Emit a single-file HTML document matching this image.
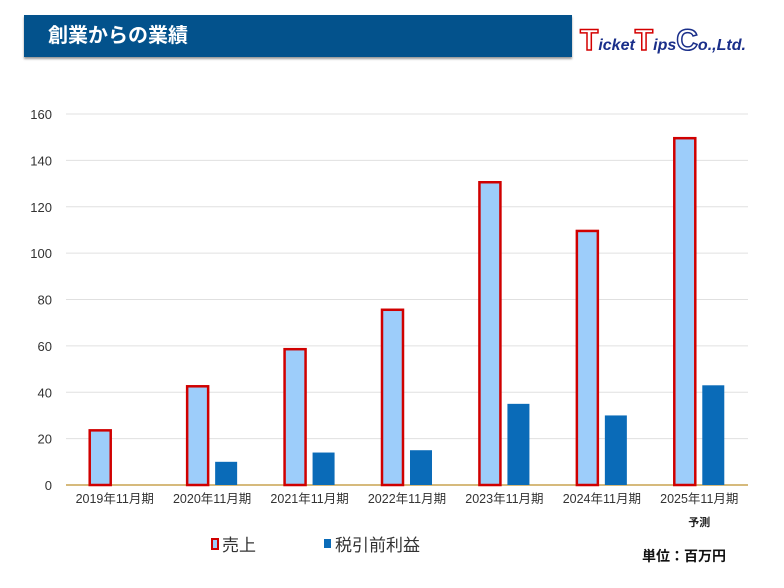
<!DOCTYPE html>
<html><head><meta charset="utf-8"><style>
body{margin:0;width:784px;height:588px;background:#fff;font-family:"Liberation Sans","Noto Sans CJK JP",sans-serif;position:relative;overflow:hidden}
.title{position:absolute;left:24px;top:15px;width:548px;height:42px;background:#03528c;box-shadow:0 2px 2px #999;color:#fff;font-weight:bold;font-size:20px;line-height:42px;padding-left:24px;box-sizing:border-box}
.logo{position:absolute;left:580px;top:24px;font-style:italic;font-weight:bold;font-size:16px;color:#1a2f8a}
.logo .big{color:#fff;-webkit-text-stroke:1.5px #d40000;font-size:30px;font-style:normal}
.logo .c{color:#fff;-webkit-text-stroke:1.5px #1a2f8a;font-size:30px;font-style:normal}
</style></head><body>
<div class="title">創業からの業績</div>
<div class="logo"><span class="big">T</span>icket<span class="big">T</span>ips<span class="c">C</span>o.,Ltd.</div>
<svg id="chart" width="784" height="588" style="position:absolute;left:0;top:0"></svg>
<script>
const categories=["2019年11月期","2020年11月期","2021年11月期","2022年11月期","2023年11月期","2024年11月期","2025年11月期"];
const sales=[24,43,59,76,131,110,150];
const profit=[0,10,14,15,35,30,43];
const yTicks=[0,20,40,60,80,100,120,140,160];
const NS="http://www.w3.org/2000/svg";
const svg=document.getElementById('chart');
const x0=66,x1=748,y0=485,y1=114;
const y=v=>y0-(v/160)*(y0-y1);
const bw=(x1-x0)/categories.length;
const cx=i=>x0+bw*(i+0.5);
function mk(t,a,txt){const e=document.createElementNS(NS,t);for(const k in a)e.setAttribute(k,a[k]);if(txt!==undefined)e.textContent=txt;svg.appendChild(e);return e;}
yTicks.forEach(v=>{
 const l=mk('line',{x1:x0,x2:x1,y1:y(v),y2:y(v),stroke:v===0?'#c9a451':'#e0e0e0','stroke-width':v===0?1.5:1});
 
 
 const t=mk('text',{x:52,y:y(v)+5,'text-anchor':'end','font-size':13,fill:'#333'},String(v));
 
 
});
categories.forEach((c,i)=>{
 const h=y0-y(sales[i]);
 const r=mk('rect',{x:cx(i)-25,y:y(sales[i])+1,width:21,height:h-1,fill:'#9dcdfa',stroke:'#d00000','stroke-width':2.5});
 
 
 if(profit[i]>0){
  const p=mk('rect',{x:cx(i)+3,y:y(profit[i]),width:22,height:y0-y(profit[i]),fill:'#0a6bb8'});
  
  
 }
 const t=mk('text',{x:cx(i),y:503,'text-anchor':'middle','font-size':12.5,fill:'#333'},c);
 
 
});
const f=mk('text',{x:cx(6),y:526,'text-anchor':'middle','font-size':11,'font-weight':'bold',fill:'#222'},'予測');


const l1=mk('rect',{x:212,y:539,width:6,height:10,fill:'#9dcdfa',stroke:'#d00000','stroke-width':2});


const l1t=mk('text',{x:222,y:551,'font-size':17,fill:'#333'},'売上');


const l2=mk('rect',{x:324,y:539,width:7,height:9,fill:'#0a6bb8'});


const l2t=mk('text',{x:335,y:551,'font-size':17,fill:'#333'},'税引前利益');


const u=mk('text',{x:642,y:561,'font-size':14,'font-weight':'bold',fill:'#111'},'単位：百万円');


</script>
</body></html>
